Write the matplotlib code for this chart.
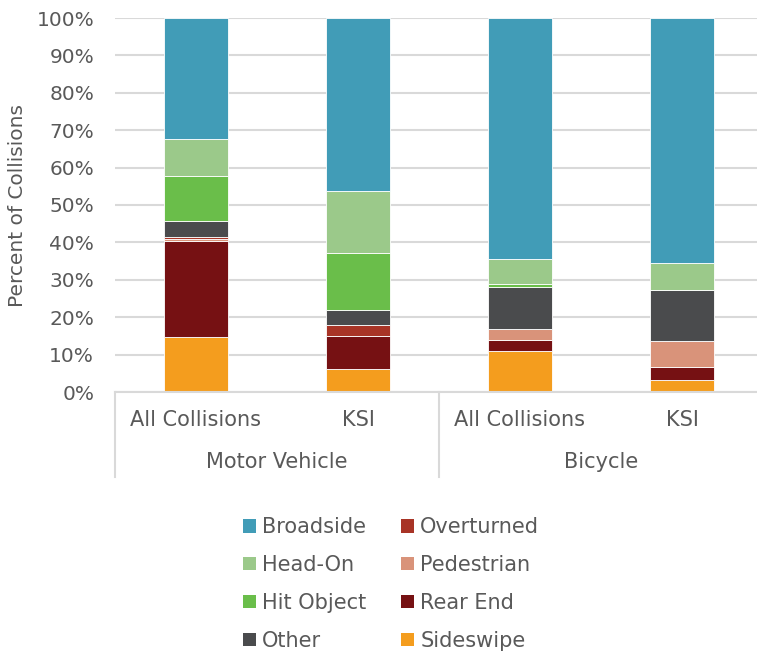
import matplotlib
matplotlib.use("Agg")
import matplotlib.pyplot as plt
from matplotlib.patches import Patch
from matplotlib.lines import Line2D
from matplotlib.ticker import PercentFormatter

# Categories and groups
categories = ["All Collisions", "KSI", "All Collisions", "KSI"]
groups = ["Motor Vehicle", "Bicycle"]

# Collision type shares (percent), stacked bottom to top
sideswipe  = [14.6, 6.1, 11.0, 3.3]
rear_end   = [25.9, 8.8, 2.9, 3.5]
pedestrian = [0.3, 0.0, 2.9, 6.8]
overturned = [0.6, 3.1, 0.0, 0.0]
other      = [4.3, 4.0, 11.4, 13.8]
hit_object = [12.1, 15.2, 0.8, 0.0]
head_on    = [9.8, 16.6, 6.6, 7.0]
broadside  = [32.4, 46.2, 64.4, 65.6]

series = [
    ("Sideswipe", sideswipe, "#F49D1E"),
    ("Rear End", rear_end, "#761113"),
    ("Pedestrian", pedestrian, "#D9937A"),
    ("Overturned", overturned, "#A83426"),
    ("Other", other, "#4A4B4D"),
    ("Hit Object", hit_object, "#6ABE4A"),
    ("Head-On", head_on, "#9BC98A"),
    ("Broadside", broadside, "#419CB7"),
]

text_color = "#595959"
grid_color = "#D9D9D9"
fs = 14.5
plt.rcParams["font.family"] = ["DejaVu Sans"]

fig = plt.figure(figsize=(7.57, 6.54), dpi=100)
W, H = 757, 654
x0, x1, y0, y1 = 115, 763, 392, 18
ax = fig.add_axes([x0 / W, 1 - y0 / H, (x1 - x0) / W, (y0 - y1) / H])

pos = list(range(len(categories)))
bottom = [0.0] * len(categories)
for name, vals, color in series:
    ax.bar(pos, vals, width=0.4, bottom=bottom, color=color,
           edgecolor="white", linewidth=0.6, zorder=3, label=name)
    bottom = [b + v for b, v in zip(bottom, vals)]

ax.set_xlim(-0.5, len(categories) - 0.5)
ax.set_ylim(0, 100)
ax.set_yticks(range(0, 101, 10))
ax.yaxis.set_major_formatter(PercentFormatter(decimals=0))
ax.tick_params(axis="y", length=0, pad=15, labelsize=fs, labelcolor=text_color)
ax.set_xticks([])
ax.yaxis.grid(True, color=grid_color, linewidth=1.5, zorder=0)
for s in ["top", "right", "left"]:
    ax.spines[s].set_visible(False)
ax.spines["bottom"].set_color(grid_color)
ax.spines["bottom"].set_linewidth(1.5)
ax.spines["bottom"].set_zorder(4)

fig.text(18 / W, 1 - 205 / H, "Percent of Collisions", rotation=90, ha="center",
         va="center", fontsize=fs, color=text_color)

# Category and group labels beneath the axis
for p, c in zip(pos, categories):
    fig.text((x0 + (p + 0.5) * 162) / W, 1 - 420 / H, c, ha="center", va="center",
             fontsize=15, color=text_color)
for g_i, g in enumerate(groups):
    fig.text((x0 + (g_i * 2 + 1) * 162) / W, 1 - 462 / H, g, ha="center", va="center",
             fontsize=15, color=text_color)
for xs in [x0, x0 + 2 * 162, x0 + 4 * 162]:
    fig.add_artist(Line2D([xs / W, xs / W], [1 - 392 / H, 1 - 477 / H],
                          transform=fig.transFigure, color=grid_color, linewidth=1.5))

# Legend, column-major order
legend_order = ["Broadside", "Head-On", "Hit Object", "Other",
                "Overturned", "Pedestrian", "Rear End", "Sideswipe"]
colors = {n: c for n, _, c in series}
handles = [Patch(facecolor=colors[n], edgecolor="none", label=n) for n in legend_order]
fig.legend(handles=handles, ncol=2, loc="center left", bbox_to_anchor=(243 / W, 1 - 584 / H),
           frameon=False, fontsize=15, labelcolor=text_color, handlelength=0.6,
           handleheight=0.6, handletextpad=0.3, columnspacing=1.7, labelspacing=0.85,
           borderpad=0, borderaxespad=0)

fig.savefig("out.png", dpi=100)
